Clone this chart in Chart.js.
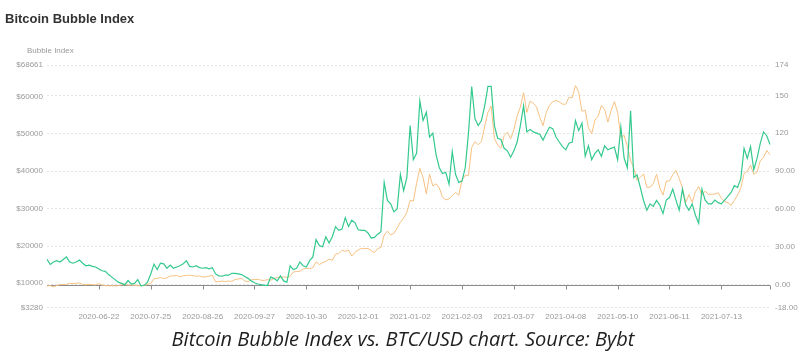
<!DOCTYPE html>
<html><head><meta charset="utf-8">
<script src="https://cdn.jsdelivr.net/npm/chart.js@4.4.0/dist/chart.umd.min.js"></script>
<style>
html,body{margin:0;padding:0;background:#fff;width:812px;height:358px;overflow:hidden;}
#wrap{position:relative;width:812px;height:358px;}
#title{position:absolute;left:5px;top:11px;font:bold 13px "Liberation Sans",Arial,sans-serif;color:#333;white-space:nowrap;}
#ylab{position:absolute;left:27px;top:46px;font:8px "Liberation Sans",Arial,sans-serif;color:#999;white-space:nowrap;}
#caption{position:absolute;left:0;width:806px;top:325px;text-align:center;font:italic 20px "Open Sans",sans-serif;color:#1e1e1e;white-space:nowrap;}
canvas{position:absolute;left:0;top:0;}
</style></head><body>
<div id="wrap">
<canvas id="c" width="812" height="358"></canvas>
<div id="title">Bitcoin Bubble Index</div>
<div id="ylab">Bubble Index</div>
<div id="caption">Bitcoin Bubble Index vs. BTC/USD chart. Source: Bybt</div>
</div>
<script>
// ---- data ----
const startDate = '2020-05-21';
const tickLabels = ['2020-06-22','2020-07-25','2020-08-26','2020-09-27','2020-10-30','2020-12-01',
  '2021-01-02','2021-02-03','2021-03-07','2021-04-08','2021-05-10','2021-06-11','2021-07-13'];
const firstTickIndex = 16;
const tickStep = 16;

const bubbleIndex = [
 20,16,18,19,18,20,22,18,17,18, 19.5,17,15,15.5,14.5,14,12.5,11,10.5,8,
 6,4,2,1,0,3.3,0.5,1,4,-1, -0.5,2,8.5,16.3,12,17,16.5,13,15.5,13,
 14,15,16.5,18.9,14.5,14,15,13.5,13,13.5, 12.5,13.5,8.5,7,6.7,7.5,7.5,9,9,8.5,
 8,6.5,5,3,1.5,0.5,0,-0.5,-0.5,6, 5,3,7,3,2,15,12,13,18,15,
 14,19,22,35.7,31,30,38,33,38,46, 43,44,53,46,51,49,43.5,43,43,41,
 37,37.5,40,42,81,66.7,64,57.7,60,87.4, 74.5,85,126,99,104,145.6,130,136.6,117,120,
 103,92.6,88,89,79.6,105.5,87.4,81,82,92.6, 120,157,131.4,126,130,141.7,157,157,126,116,
 115,108,106,101,106,113,126,141.7,121,123, 121,120,119,114.5,120,124.7,123.6,117,113,109.4,
 106.8,112,113,130,122,128,101.7,110,99,104, 106.8,101.7,110,106.8,108,109,99,125,100.3,92.6,
 137.8,84.8,87,77,66.7,59,64,62,66.7,63, 56.3,67,69,75.7,67,59,75.7,63,59,64,
 55,48.6,75.7,67,64,64,67,65,64,67, 70,73,78.4,77,84,108,100,109.4,91,100,
 112,121,118,111
];

const btcPrice = [
 9080,9170,8790,9200,9430,9450,9520,9800,9660,9760, 9880,9470,9380,9510,9410,9340,9680,9310,9150,9120,
 9130,9090,9130,9370,9440,9290,9300,9250,9130,9160, 9160,9530,9700,11030,11110,11350,11060,11230,11760,11770,
 11880,11580,11790,11910,11960,11870,11680,11760,11480,11530, 11710,11970,10170,10280,10370,10240,10390,10330,10790,10950,
 11090,10420,10240,10750,10780,10850,10620,10550,10790,10600, 11070,11380,11420,11500,11370,11750,12820,12970,13030,13650,
 13800,13740,13990,15580,14830,15330,15700,16300,15970,17650, 17800,18680,18400,18730,17140,18180,18790,19200,19150,19190,
 18560,18060,19170,19430,22800,23870,22850,23240,24710,26270, 27360,28950,32130,31970,36770,40800,38350,33920,39190,36020,
 36630,35510,33010,32290,32570,33470,34270,33540,37620,38900, 38900,46400,48000,47170,48020,52130,55900,57540,48850,47090,
 46190,49630,50540,48760,51200,54880,57330,61200,55850,58910, 58330,57350,54530,52300,55880,57750,58800,59070,58720,58100,
 58090,60000,59800,63110,61340,56180,56470,51700,50100,53800, 54860,57750,56610,53250,56400,58800,55860,49150,49700,46760,
 42900,40780,37540,38400,39290,35680,35660,36690,39200,35520, 33560,37340,37340,39100,40220,38050,35480,31600,33700,31600,
 34500,35870,33570,34660,33750,33800,33850,34240,32700,31800, 31530,30840,32110,33600,35400,39400,40010,41630,39200,39750,
 42820,43800,45600,44430
];

const priceTicks = [3280,10000,20000,30000,40000,50000,60000,68661];
const indexTicks = [-18,0,30,60,90,120,150,174];
const indexTickLabels = ['-18.00','0.00','30.00','60.00','90.00','120','150','174'];

// ---- categories (dates) ----
function addDays(s, n){ const d = new Date(s+'T00:00:00Z'); d.setUTCDate(d.getUTCDate()+n); return d.toISOString().slice(0,10); }
function diffDays(a,b){ return Math.round((new Date(b+'T00:00:00Z')-new Date(a+'T00:00:00Z'))/86400000); }
const categories = [];
for (let j=0;j<firstTickIndex;j++) categories.push(addDays(startDate, 2*j));
for (let i=0;i<tickLabels.length-1;i++){
  const span = diffDays(tickLabels[i], tickLabels[i+1]);
  for (let j=0;j<tickStep;j++) categories.push(addDays(tickLabels[i], Math.round(j*span/tickStep)));
}
const lastTick = tickLabels[tickLabels.length-1];
for (let j=0; categories.length < bubbleIndex.length; j++) categories.push(addDays(lastTick, 2*j));

const tickFont = {family:'"Liberation Sans", Arial, sans-serif', size:8, lineHeight:1.2};
const tickColor = '#9a9a9a';

const zeroAxis = {
  id:'zeroAxis',
  beforeDatasetsDraw(chart){
    const {ctx, chartArea, scales} = chart;
    const y = Math.round(scales.yIndex.getPixelForValue(0)) + 0.5;
    ctx.save();
    ctx.strokeStyle = '#8c8c8c';
    ctx.lineWidth = 1;
    ctx.beginPath();
    ctx.moveTo(chartArea.left, y); ctx.lineTo(chartArea.right, y);
    const idx = [];
    for (let i=firstTickIndex;i<categories.length;i+=tickStep) idx.push(i);
    idx.push(categories.length-1);
    idx.forEach(i=>{ const x = Math.round(scales.x.getPixelForValue(i))+0.5; ctx.moveTo(x,y); ctx.lineTo(x,y+4); });
    ctx.stroke();
    ctx.restore();
  }
};

new Chart(document.getElementById('c'), {
  type:'line',
  data:{
    labels: categories,
    datasets:[
      {label:'Bubble Index', data:bubbleIndex, yAxisID:'yIndex', borderColor:'#34c98e', borderWidth:1.2, pointRadius:0, tension:0, fill:false},
      {label:'BTC Price', data:btcPrice, yAxisID:'yPrice', borderColor:'#f6c182', borderWidth:1, pointRadius:0, tension:0, fill:false}
    ]
  },
  options:{
    responsive:false, animation:false,
    layout:{padding:{top:65,bottom:31,left:0,right:0}},
    plugins:{legend:{display:false}, tooltip:{enabled:false}, title:{display:false}},
    scales:{
      x:{
        type:'category',
        grid:{display:false, drawTicks:false},
        border:{display:false},
        ticks:{autoSkip:false, maxRotation:0, minRotation:0, padding:5, color:tickColor, font:tickFont,
          callback:(v,i)=>{ if (i>=firstTickIndex && (i-firstTickIndex)%tickStep===0){ const t=(i-firstTickIndex)/tickStep; return t<tickLabels.length?tickLabels[t]:''; } return ''; }}
      },
      yPrice:{
        position:'left', min:3280, max:68661,
        grid:{display:false, drawTicks:false},
        border:{display:false},
        afterBuildTicks:s=>{ s.ticks = priceTicks.map(v=>({value:v})); },
        afterFit:s=>{ s.width = 47; },
        ticks:{padding:4, color:tickColor, font:tickFont, callback:v=>'$'+v}
      },
      yIndex:{
        position:'right', min:-18, max:174,
        grid:{display:true, drawTicks:false, color:'#e4e4e4', lineWidth:1},
        border:{display:false, dash:[2,2]},
        afterBuildTicks:s=>{ s.ticks = indexTicks.map(v=>({value:v})); },
        afterFit:s=>{ s.width = 42; },
        ticks:{padding:5, color:tickColor, font:tickFont, callback:v=>{ const k=indexTicks.indexOf(v); return k>=0?indexTickLabels[k]:''; }}
      }
    }
  },
  plugins:[zeroAxis]
});
</script>
</body></html>
